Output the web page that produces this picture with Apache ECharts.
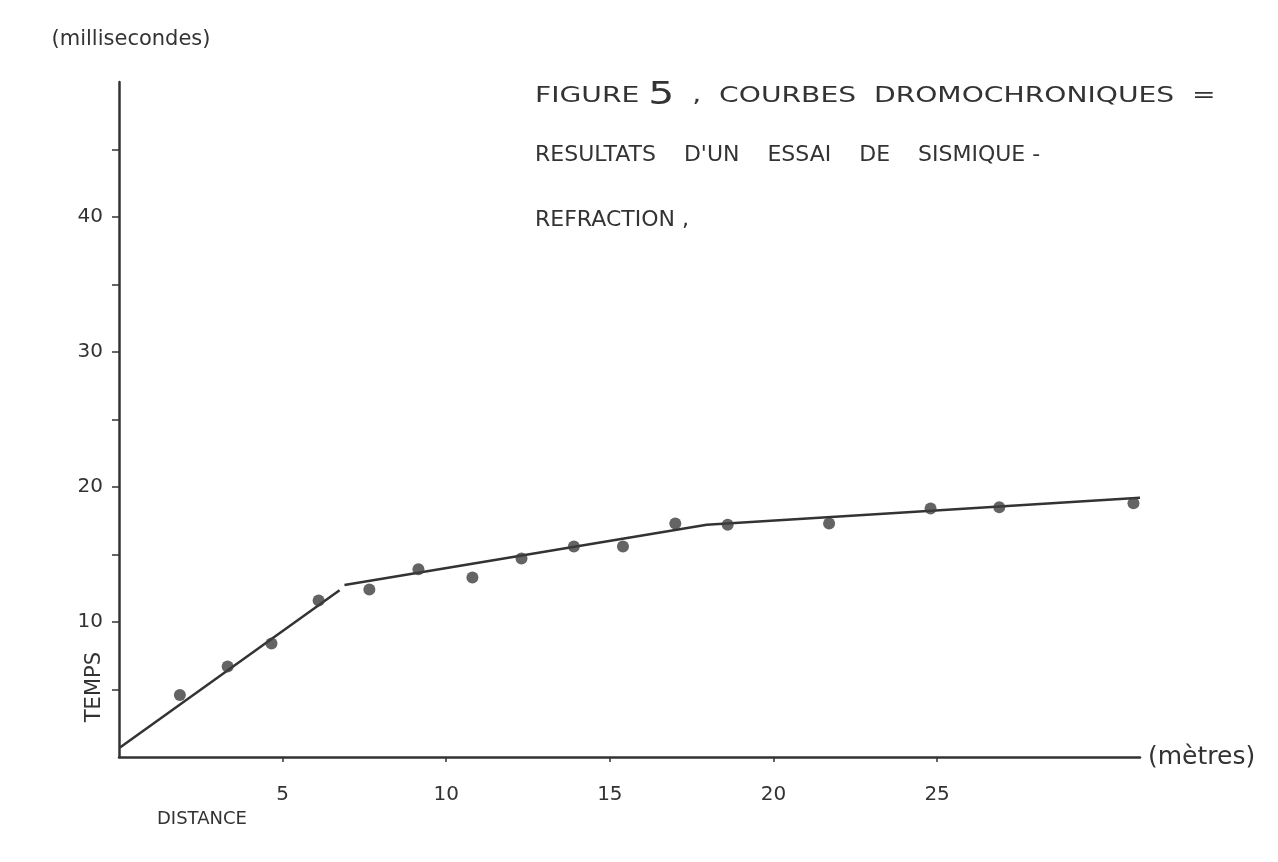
<!DOCTYPE html>
<html>
<head>
<meta charset="utf-8">
<script src="https://cdn.jsdelivr.net/npm/echarts@6/dist/echarts.min.js"></script>
<style>html,body{margin:0;padding:0;background:#fff;}#c{width:1278px;height:862px;}</style>
</head>
<body>
<div id="c"></div>
<script>
// Measured points: distance (m) vs time (ms)
const distances = [1.86, 3.32, 4.66, 6.10, 7.65, 9.15, 10.8, 12.3, 13.9, 15.4, 17.0, 18.6, 21.7, 24.8, 26.9, 31.0];
const times     = [4.6, 6.7, 8.4, 11.6, 12.4, 13.9, 13.3, 14.7, 15.6, 15.6, 17.3, 17.2, 17.3, 18.4, 18.5, 18.8];
// Fitted straight segments (hand drawn)
const fit1X = [0.03, 6.74];
const fit1Y = [0.7, 12.35];
const fit2X = [6.89, 17.96, 31.2];
const fit2Y = [12.74, 17.2, 19.2];
// Tick positions / labels
const xTicks = [5, 10, 15, 20, 25];
const yTicks = [5, 10, 15, 20, 25, 30, 35, 40, 45];
const yLabels = [10, 20, 30, 40];

const ink = '#333333';
const font = 'DejaVu Sans';
const pts = distances.map((d, i) => [d, times[i]]);
const seg1 = fit1X.map((d, i) => [d, fit1Y[i]]);
const seg2 = fit2X.map((d, i) => [d, fit2Y[i]]);

const chart = echarts.init(document.getElementById('c'));
chart.setOption({
  backgroundColor: '#ffffff',
  animation: false,
  grid: { left: 119, right: 138, top: 82, bottom: 105 },
  xAxis: {
    type: 'value', min: 0, max: 31.2,
    name: '(mètres)', nameLocation: 'end', nameGap: 8,
    nameTextStyle: { color: ink, fontFamily: font, fontSize: 25, verticalAlign: 'middle' },
    axisLine: { lineStyle: { color: ink, width: 2.5 } },
    axisTick: { show: true, length: 5, customValues: xTicks, lineStyle: { color: ink, width: 1.5 } },
    axisLabel: { customValues: xTicks, color: ink, fontFamily: font, fontSize: 20, margin: 28 },
    splitLine: { show: false }
  },
  yAxis: {
    type: 'value', min: 0, max: 50,
    name: '(millisecondes)', nameLocation: 'end', nameGap: 32,
    nameTextStyle: { color: ink, fontFamily: font, fontSize: 21, align: 'center', padding: [0, 0, 0, 24] },
    axisLine: { lineStyle: { color: ink, width: 2.5 } },
    axisTick: { show: true, length: 7, customValues: yTicks, lineStyle: { color: ink, width: 1.5 } },
    axisLabel: { customValues: yLabels, color: ink, fontFamily: font, fontSize: 20, margin: 16 },
    splitLine: { show: false }
  },
  series: [
    { name: 'fit1', type: 'line', data: seg1, showSymbol: false, symbol: 'none',
      lineStyle: { color: ink, width: 2.5 }, z: 2 },
    { name: 'fit2', type: 'line', data: seg2, showSymbol: false, symbol: 'none',
      lineStyle: { color: ink, width: 2.5 }, z: 2 },
    { name: 'mesures', type: 'scatter', data: pts, symbol: 'circle', symbolSize: 12,
      itemStyle: { color: '#3d3d3d' }, z: 3 }
  ],
  graphic: [
    { type: 'text', x: 535, y: 80, scaleX: 1.28,
      style: { text: '{a|FIGURE }{b|5}{a|  ,  COURBES  DROMOCHRONIQUES  =}',
        rich: { a: { fontFamily: font, fontSize: 22, fill: ink }, b: { fontFamily: font, fontSize: 32, fill: ink } } } },
    { type: 'text', left: 535, top: 144,
      style: { text: 'RESULTATS    D\'UN    ESSAI    DE    SISMIQUE -', fontFamily: font, fontSize: 22, fill: ink } },
    { type: 'text', left: 535, top: 209,
      style: { text: 'REFRACTION ,', fontFamily: font, fontSize: 22, fill: ink } },
    { type: 'text', left: 84, top: 652, rotation: Math.PI / 2,
      style: { text: 'TEMPS', fontFamily: font, fontSize: 21, fill: ink } },
    { type: 'text', left: 157, top: 810,
      style: { text: 'DISTANCE', fontFamily: font, fontSize: 18, fill: ink } }
  ]
});
</script>
</body>
</html>
